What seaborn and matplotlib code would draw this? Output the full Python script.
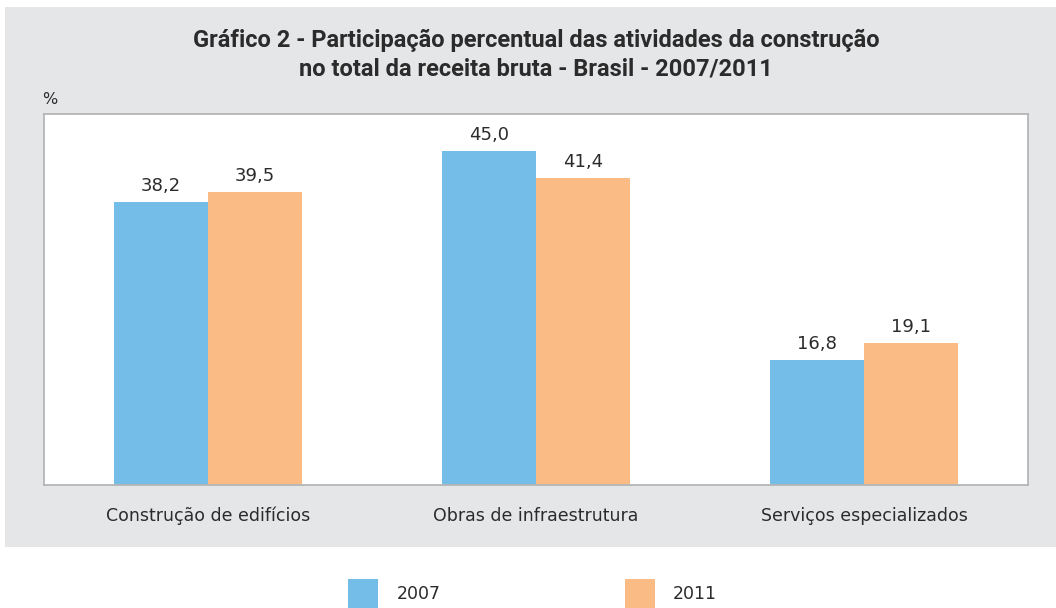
import matplotlib
matplotlib.use("Agg")
import matplotlib.pyplot as plt
from matplotlib.patches import Rectangle, Patch
import seaborn as sns
import pandas as pd

categories = ["Construção de edifícios", "Obras de infraestrutura", "Serviços especializados"]
years = ["2007", "2011"]
values_2007 = [38.2, 45.0, 16.8]
values_2011 = [39.5, 41.4, 19.1]
colors = ["#74BDE8", "#FABB84"]
title = "Gráfico 2 - Participação percentual das atividades da construção\nno total da receita bruta - Brasil - 2007/2011"

df = pd.DataFrame({
    "categoria": categories * 2,
    "ano": [years[0]] * 3 + [years[1]] * 3,
    "valor": values_2007 + values_2011,
})

sns.set_theme(style="white")
plt.rcParams["font.family"] = ["DejaVu Sans"]

fig = plt.figure(figsize=(10.56, 6.08), dpi=100)
fig.patch.set_facecolor("white")
bg = Rectangle((5 / 1056, 1 - 547 / 608), 1 - 5 / 1056, (547 - 7) / 608,
               transform=fig.transFigure, facecolor="#E5E6E8", edgecolor="none", zorder=-10)
fig.patches.append(bg)

ax = fig.add_axes([44 / 1056, 1 - 485 / 608, (1028 - 44) / 1056, (485 - 114) / 608])
ax.set_facecolor("white")
sns.barplot(data=df, x="categoria", y="valor", hue="ano", hue_order=years,
            palette=colors, width=0.575, gap=0, legend=False, ax=ax,
            saturation=1, edgecolor="none", linewidth=0)
ax.set_ylim(0, 50)
ax.set_xlim(-0.5, 2.5)
ax.set_yticks([])
ax.set_xlabel("")
ax.set_ylabel("")
ax.tick_params(axis="x", length=0, pad=15.5, labelsize=12.5, labelcolor="#2b2b2b")
for s in ax.spines.values():
    s.set_color("#B5B6B8")
    s.set_linewidth(1.3)

for cont, vals in zip(ax.containers, [values_2007, values_2011]):
    ax.bar_label(cont, labels=[f"{v:.1f}".replace(".", ",") for v in vals],
                 padding=5, fontsize=13, color="#2b2b2b")

fig.text(536 / 1056, 1 - 55 / 608, title, ha="center", va="center",
         fontsize=17, fontweight="bold", color="#2b2b2b",
         family=["Roboto", "DejaVu Sans"], linespacing=1.3)
fig.text(50 / 1056, 1 - 100 / 608, "%", ha="center", va="center", fontsize=11.5, color="#2b2b2b")

handles = [Patch(facecolor=c, edgecolor="none") for c in colors]
fig.legend(handles, years, loc="upper left", bbox_to_anchor=(348 / 1056, 1 - 579 / 608),
           ncol=2, frameon=False, fontsize=12.5, handlelength=1.75, handleheight=2.2,
           handletextpad=1.05, columnspacing=10.6, borderpad=0, borderaxespad=0,
           labelcolor="#2b2b2b")

fig.savefig("out.png", dpi=100)
